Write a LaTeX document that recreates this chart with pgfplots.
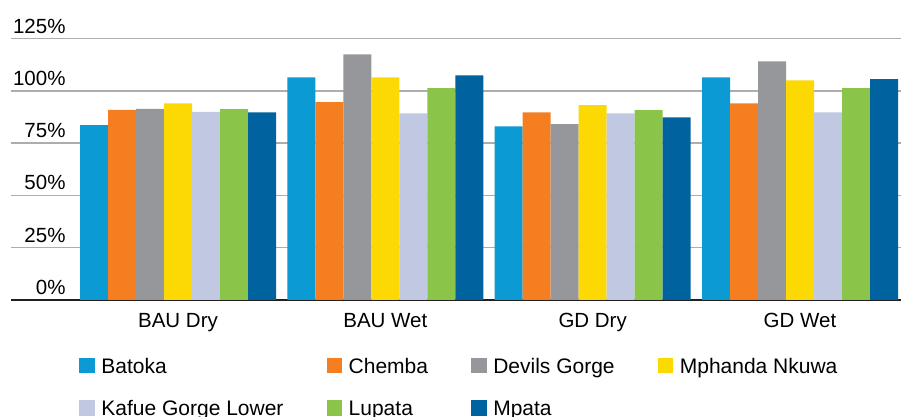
\documentclass[border=0pt]{standalone}
\usepackage{pgfplots}
\pgfplotsset{compat=1.18}
\usepackage{pgfplotstable}
\usepackage{fontspec}
\setmainfont{Liberation Sans}

\definecolor{cBatoka}{HTML}{0B9AD3}
\definecolor{cChemba}{HTML}{F47E20}
\definecolor{cDevils}{HTML}{96979B}
\definecolor{cMphanda}{HTML}{FDD904}
\definecolor{cKafue}{HTML}{C0C8E2}
\definecolor{cLupata}{HTML}{8AC449}
\definecolor{cMpata}{HTML}{00629E}
\definecolor{gridgray}{HTML}{ADADAD}
\definecolor{axisdark}{HTML}{231F20}

% Relative generation by scenario (%), one row per scenario
\pgfplotstableread{
x  Batoka Chemba Devils Mphanda Kafue Lupata Mpata
0  83.6   90.9   91.4   94.1    90.0  91.3   89.8
1  106.5  94.6   117.5  106.5   89.3  101.3  107.5
2  83.1   89.8   84.1   93.2    89.3  90.8   87.4
3  106.5  94.1   114.2  105.1   89.8  101.3  105.6
}\flowtable

\begin{document}
\begin{tikzpicture}[x=1pt,y=1pt]
\path[use as bounding box] (0,0) rectangle (901,417);
\begin{axis}[
  at={(11pt,117pt)}, anchor=south west,
  scale only axis, width=890pt, height=261.3pt,
  xmin=-0.8055, xmax=3.4872, ymin=0, ymax=125,
  ybar=0pt, bar width=0.13505,
  axis x line*=bottom, axis y line*=left,
  x axis line style={-, draw=axisdark, line width=1.8pt},
  y axis line style={draw=none},
  xtick={0,1,2,3}, xticklabels={BAU Dry,BAU Wet,GD Dry,GD Wet},
  ytick={0,25,50,75,100,125},
  yticklabels={0\%,25\%,50\%,75\%,100\%,125\%},
  major tick length=0pt,
  ymajorgrids, grid style={draw=gridgray, line width=1.5pt},
  tick label style={font=\fontsize{20.5}{24}\selectfont, text=black},
  xticklabel style={anchor=base, inner sep=0pt, yshift=-27.5pt},
  yticklabel style={anchor=base east, inner sep=0pt, xshift=54.7pt, yshift=5.5pt},
  legend columns=4,
  legend cell align=left,
  legend style={at={(axis description cs:0,0)}, anchor=north west,
    xshift=68pt, yshift=-57.7pt, draw=none, fill=none, inner sep=0pt,
    font=\fontsize{21}{25}\selectfont, row sep=22pt,
    nodes={inner sep=0pt, text height=15pt, text depth=5pt},
    /tikz/every odd column/.append style={column sep=6.5pt},
    /tikz/every even column/.append style={column sep=43pt}},
  legend image code/.code={\fill[#1] (0pt,-5pt) rectangle (15.7pt,10.3pt);},
]
\addplot[fill=cBatoka, draw=none]  table[x=x, y=Batoka]  {\flowtable};
\addplot[fill=cChemba, draw=none]  table[x=x, y=Chemba]  {\flowtable};
\addplot[fill=cDevils, draw=none]  table[x=x, y=Devils]  {\flowtable};
\addplot[fill=cMphanda, draw=none] table[x=x, y=Mphanda] {\flowtable};
\addplot[fill=cKafue, draw=none]   table[x=x, y=Kafue]   {\flowtable};
\addplot[fill=cLupata, draw=none]  table[x=x, y=Lupata]  {\flowtable};
\addplot[fill=cMpata, draw=none]   table[x=x, y=Mpata]   {\flowtable};
\legend{Batoka, Chemba, Devils Gorge, Mphanda Nkuwa, Kafue Gorge Lower, Lupata, Mpata}
\end{axis}
\end{tikzpicture}
\end{document}
